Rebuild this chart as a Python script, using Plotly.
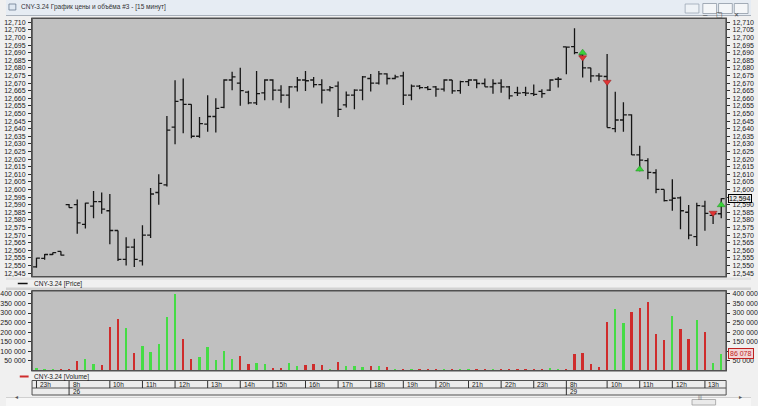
import plotly.graph_objects as go

# ---------------- data ----------------
bar_index = list(range(1, 86))

opens = [12.549, 12.5546, 12.5572, 12.5592, 12.590, 12.590, 12.577, 12.589, 12.592, 12.586,
         12.573, 12.554, 12.562, 12.553, 12.570, 12.598, 12.603, 12.641, 12.659, 12.656,
         12.635, 12.643, 12.648, 12.654, 12.672, 12.670, 12.664, 12.657, 12.6635, 12.672,
         12.6653, 12.662, 12.6675, 12.672, 12.672, 12.669, 12.6655, 12.668, 12.6556, 12.662,
         12.6653, 12.673, 12.670, 12.676, 12.673, 12.6747, 12.662, 12.668, 12.667, 12.6675,
         12.666, 12.672, 12.665, 12.671, 12.672, 12.6697, 12.6675, 12.670, 12.6675, 12.6637,
         12.6637, 12.663, 12.6645, 12.6653, 12.6725, 12.6938, 12.694, 12.6886, 12.680, 12.6747,
         12.6743, 12.640, 12.6457, 12.649, 12.6227, 12.619, 12.611, 12.600, 12.593, 12.5945,
         12.585, 12.569, 12.589, 12.583, 12.584]
highs = [12.555, 12.5576, 12.5585, 12.5594, 12.5905, 12.5934, 12.5913, 12.599, 12.598, 12.597,
         12.573, 12.5686, 12.5675, 12.5765, 12.601, 12.610, 12.6484, 12.6718, 12.673, 12.656,
         12.6477, 12.662, 12.660, 12.6725, 12.6775, 12.680, 12.665, 12.678, 12.6725, 12.6725,
         12.6685, 12.668, 12.674, 12.678, 12.674, 12.6725, 12.668, 12.671, 12.6644, 12.666,
         12.6747, 12.676, 12.678, 12.6765, 12.6755, 12.6775, 12.669, 12.6688, 12.668, 12.668,
         12.6725, 12.672, 12.6715, 12.6725, 12.6725, 12.673, 12.6725, 12.6725, 12.668, 12.6675,
         12.6675, 12.669, 12.666, 12.6725, 12.674, 12.694, 12.706, 12.689, 12.680, 12.6765,
         12.6891, 12.6643, 12.6574, 12.6495, 12.6288, 12.6205, 12.6133, 12.600, 12.6067, 12.5953,
         12.5898, 12.5913, 12.5926, 12.5847, 12.5942]
lows = [12.5485, 12.5537, 12.5568, 12.5565, 12.588, 12.5708, 12.5743, 12.581, 12.584, 12.564,
        12.553, 12.550, 12.549, 12.550, 12.568, 12.590, 12.602, 12.6297, 12.637, 12.6337,
        12.634, 12.638, 12.6374, 12.6534, 12.6653, 12.655, 12.656, 12.6556, 12.6587, 12.6587,
        12.657, 12.6534, 12.6644, 12.6648, 12.667, 12.6565, 12.6644, 12.6477, 12.6539, 12.6527,
        12.6587, 12.6644, 12.669, 12.669, 12.6725, 12.6556, 12.6587, 12.666, 12.6653, 12.661,
        12.6644, 12.663, 12.663, 12.668, 12.6666, 12.6675, 12.663, 12.6637, 12.6593, 12.6615,
        12.6615, 12.6615, 12.6604, 12.6648, 12.667, 12.6758, 12.689, 12.6736, 12.6706, 12.6715,
        12.6407, 12.6377, 12.638, 12.6227, 12.612, 12.6067, 12.5975, 12.592, 12.586, 12.5738,
        12.5672, 12.5628, 12.5729, 12.5773, 12.581]
closes = [12.5548, 12.5572, 12.5585, 12.5568, 12.588, 12.578, 12.591, 12.592, 12.587, 12.573,
          12.554, 12.562, 12.554, 12.570, 12.597, 12.604, 12.639, 12.658, 12.656, 12.635,
          12.6433, 12.648, 12.6534, 12.672, 12.674, 12.665, 12.657, 12.663, 12.672, 12.6653,
          12.662, 12.6675, 12.672, 12.6715, 12.669, 12.6653, 12.667, 12.6527, 12.662, 12.6653,
          12.674, 12.670, 12.676, 12.673, 12.674, 12.662, 12.668, 12.667, 12.6659, 12.666,
          12.672, 12.6648, 12.671, 12.672, 12.6697, 12.6675, 12.6697, 12.6675, 12.6615, 12.6634,
          12.6634, 12.6626, 12.663, 12.672, 12.6725, 12.6936, 12.690, 12.680, 12.6747, 12.6745,
          12.6407, 12.6457, 12.649, 12.6227, 12.6193, 12.6113, 12.600, 12.5927, 12.5942, 12.586,
          12.570, 12.5893, 12.5843, 12.584, 12.594]

volumes = [15000, 6000, 8000, 4000, 6000, 52000, 60000, 36000, 31000, 228000,
           272000, 225000, 94000, 130000, 99000, 139000, 279000, 400000, 165000, 60000,
           73000, 123000, 55000, 101000, 59000, 75000, 32000, 38000, 32000, 15000,
           15000, 39000, 24000, 31000, 32000, 29000, 10000, 43000, 22000, 24000,
           19000, 22000, 25000, 17000, 6000, 10000, 10000, 6000, 6000, 8000,
           4000, 6000, 4000, 4000, 6000, 6000, 4000, 6000, 8000, 8000,
           6000, 6000, 6000, 13000, 6000, 6000, 88000, 90000, 32000, 17000,
           253000, 321000, 249000, 309000, 326000, 359000, 190000, 158000, 284000, 217000,
           167000, 264000, 200000, 38000, 86078]
vol_dir = list("gggrrrggrr" "rgrgggggrr" "gggggrrggr" "rggrrrgrgg" "grgrgrgrrr"
               "grggrrgrrr" "rrrggrrrrr" "rggrrrrrgr" "rgrgg")

buy_x = [68, 75, 85]
buy_y = [12.6900, 12.6133, 12.5898]
sell_x = [68, 71, 84]
sell_y = [12.6868, 12.6707, 12.5845]

price_ticks = [round(12.545 + 0.005 * k, 3) for k in range(34)]
vol_ticks = [50000 * k for k in range(1, 9)]

hour_ticks = [1, 5, 10, 14, 18, 22, 26, 30, 34, 38, 42, 46, 50, 54, 58, 62, 66, 71, 75, 79, 83]
hour_labels = ["23h", "8h", "10h", "11h", "12h", "13h", "14h", "15h", "16h", "17h", "18h",
               "19h", "20h", "21h", "22h", "23h", "8h", "10h", "11h", "12h", "13h"]
date_ticks = [5, 66]
date_labels = ["26", "29"]

last_price = 12.594
last_volume = 86078
title_text = "CNY-3.24 График цены и объёма #3 - [15 минут]"
price_name = "CNY-3.24 [Price]"
volume_name = "CNY-3.24 [Volume]"

# ---------------- geometry helpers ----------------
W, H = 758, 406
def X(p): return p / W
def Y(p): return 1 - p / H

PL, PR = 26.5, 732.7
P_TOP, P_BOT = 18.3, 276.7
V_TOP, V_BOT = 290.7, 370.7
T_TOP, T_MID, T_BOT = 381, 388, 395
x_range = [0.457, 85.6]
price_range = [12.5426, 12.7126]
vol_range = [-2600, 417000]

FONT = "Liberation Sans"
axfont = dict(family=FONT, size=7, color="#202020")
GREEN, RED = "#45dc45", "#cf2c2c"

def fmt_price(v): return f"{v:.3f}".replace(".", ",")
def fmt_vol(v): return f"{v:,d}".replace(",", " ")

# right-hand labels hidden behind the "current value" boxes
cov_p = min(price_ticks, key=lambda v: abs(v - last_price))
cov_v = min(vol_ticks, key=lambda v: abs(v - last_volume))
right_price_text = ["" if v == cov_p else fmt_price(v) for v in price_ticks]
right_vol_text = ["" if v == cov_v else fmt_vol(v) for v in vol_ticks]

fig = go.Figure()
fig.add_trace(go.Ohlc(
    x=bar_index, open=opens, high=highs, low=lows, close=closes,
    increasing=dict(line=dict(color="#151515", width=1.3)),
    decreasing=dict(line=dict(color="#151515", width=1.3)),
    tickwidth=0.42, hoverinfo="skip", showlegend=False, xaxis="x", yaxis="y"))
fig.add_trace(go.Scatter(
    x=buy_x, y=buy_y, mode="markers", xaxis="x", yaxis="y", showlegend=False,
    marker=dict(symbol="triangle-up", size=7, color="#39d339",
                line=dict(color="#1e8c1e", width=0.5)), hoverinfo="skip"))
fig.add_trace(go.Scatter(
    x=sell_x, y=sell_y, mode="markers", xaxis="x", yaxis="y", showlegend=False,
    marker=dict(symbol="triangle-down", size=7, color="#e03333",
                line=dict(color="#901c1c", width=0.5)), hoverinfo="skip"))
fig.add_trace(go.Scatter(x=[None], y=[None], xaxis="x", yaxis="y2", showlegend=False,
                         hoverinfo="skip"))
fig.add_trace(go.Bar(
    x=bar_index, y=volumes, width=0.28, xaxis="x2", yaxis="y3", showlegend=False,
    marker=dict(color=[GREEN if d == "g" else RED for d in vol_dir], line=dict(width=0)),
    hoverinfo="skip"))
fig.add_trace(go.Scatter(x=[None], y=[None], xaxis="x2", yaxis="y4", showlegend=False,
                         hoverinfo="skip"))

common_y = dict(showgrid=False, zeroline=False, showline=True, linecolor="#404040",
                linewidth=1, ticks="outside", ticklen=3, tickcolor="#303030",
                tickfont=axfont, ticklabelstandoff=1)
common_x = dict(showgrid=False, zeroline=False, showticklabels=False, ticks="",
                domain=[X(PL), X(PR)], range=x_range, showline=False)

fig.update_layout(
    width=W, height=H, margin=dict(l=0, r=0, t=0, b=0),
    paper_bgcolor="#f0f0f0", plot_bgcolor="#c0c0c0",
    separators=", ", bargap=0, showlegend=False,
    xaxis=dict(**common_x, anchor="y", rangeslider=dict(visible=False)),
    yaxis=dict(**common_y, domain=[Y(P_BOT), Y(P_TOP)], range=price_range,
               tickvals=price_ticks, tickformat=".3f", side="left", anchor="x"),
    yaxis2=dict(**common_y, overlaying="y", range=price_range, tickvals=price_ticks,
                ticktext=right_price_text, side="right", anchor="x"),
    xaxis2=dict(**common_x, anchor="y3"),
    yaxis3=dict(**common_y, domain=[Y(V_BOT), Y(V_TOP)], range=vol_range,
                tickvals=vol_ticks, tickformat=",d", side="left", anchor="x2"),
    yaxis4=dict(**common_y, overlaying="y3", range=vol_range, tickvals=vol_ticks,
                ticktext=right_vol_text, side="right", anchor="x2"),
)

shapes = []
def rect(x0, y0, x1, y1, fill=None, line=None, lw=1, layer="below"):
    shapes.append(dict(type="rect", xref="paper", yref="paper", x0=X(x0), x1=X(x1),
                       y0=Y(y1), y1=Y(y0), fillcolor=fill or "rgba(0,0,0,0)",
                       line=dict(color=line or "rgba(0,0,0,0)", width=lw if line else 0),
                       layer=layer))
def hline(x0, x1, y, color, lw=1, layer="above"):
    shapes.append(dict(type="line", xref="paper", yref="paper", x0=X(x0), x1=X(x1),
                       y0=Y(y), y1=Y(y), line=dict(color=color, width=lw), layer=layer))

# title bar
rect(0, 0, W, 15, fill="#e6ecf3")
hline(0, W, 15.5, "#a8b0ba")
rect(3, 4, 10, 10, fill="#dfe8f2", line="#6a7b90", lw=0.8, layer="above")
# window buttons
rect(691, 4, 705, 13, fill="#eef2f6", line="#9aa6b4", lw=0.8, layer="above")
for bx in (709, 725, 741):
    rect(bx, 3.5, bx + 14, 13.5, fill="#f4f6f8", line="#8e99a6", lw=0.8, layer="above")
# panel frames
rect(PL, P_TOP, PR, P_BOT, line="#505050", lw=1.5, layer="above")
rect(PL, V_TOP, PR, V_BOT, line="#505050", lw=1.5, layer="above")
rect(0, 277.5, W, 280, fill="#e2e2e2")
rect(0, 287.5, W, 290, fill="#d2d2d2")
# time axis box
rect(PL, T_TOP - 0.5, PR, T_BOT, fill="#ececec", line="#505050", lw=1)
hline(PL, PR, T_MID, "#505050")
# scrollbar
rect(0, 398, W, H, fill="#f7f7f7")
hline(0, W, 397.5, "#d0d0d0", layer="below")
rect(698, 399.5, 722, 405, fill="#eaeaea", line="#a0a0a0", lw=0.8, layer="above")
# legend line icons
hline(12, 22, 283.5, "#111111", lw=1.5)
hline(14, 23, 376.5, RED, lw=2)

annotations = [
    dict(text=title_text, x=X(13), y=Y(7.5), xref="paper", yref="paper", xanchor="left",
         yanchor="middle", showarrow=False, font=dict(family=FONT, size=6.5, color="#333333")),
    dict(text=price_name, x=X(26), y=Y(283.5), xref="paper", yref="paper", xanchor="left",
         yanchor="middle", showarrow=False, font=dict(family=FONT, size=6.5, color="#202020")),
    dict(text=volume_name, x=X(26), y=Y(376.5), xref="paper", yref="paper", xanchor="left",
         yanchor="middle", showarrow=False, font=dict(family=FONT, size=6.5, color="#202020")),
    dict(text=fmt_price(last_price), x=X(PR + 2), y=last_price, xref="paper",
         yref="y", xanchor="left", yanchor="middle", showarrow=False,
         font=dict(family=FONT, size=7, color="#000000"), bgcolor="#e8e8e8",
         bordercolor="#000000", borderwidth=1, borderpad=0),
    dict(text=fmt_vol(last_volume), x=X(PR + 2), y=last_volume, xref="paper",
         yref="y3", xanchor="left", yanchor="middle", showarrow=False,
         font=dict(family=FONT, size=7, color="#c02020"), bgcolor="#f2d6d6",
         bordercolor="#c02020", borderwidth=1, borderpad=1),
    dict(text="–", x=X(716), y=Y(8), xref="paper", yref="paper", showarrow=False,
         font=dict(family=FONT, size=8, color="#444")),
    dict(text="□", x=X(732), y=Y(8.5), xref="paper", yref="paper", showarrow=False,
         font=dict(family="DejaVu Sans", size=7, color="#444")),
    dict(text="✕", x=X(748), y=Y(8.5), xref="paper", yref="paper", showarrow=False,
         font=dict(family="DejaVu Sans", size=6, color="#444")),
    dict(text="◂", x=X(7), y=Y(402), xref="paper", yref="paper", showarrow=False,
         font=dict(family="DejaVu Sans", size=6, color="#555")),
    dict(text="▸", x=X(751), y=Y(402), xref="paper", yref="paper", showarrow=False,
         font=dict(family="DejaVu Sans", size=6, color="#555")),
    dict(text="|||", x=X(710), y=Y(402.3), xref="paper", yref="paper", showarrow=False,
         font=dict(family=FONT, size=5, color="#666")),
]

# time axis (hours / dates) placed on the volume x scale
tfont = dict(family=FONT, size=6.5, color="#202020")
for t, lab in zip(hour_ticks, hour_labels):
    shapes.append(dict(type="line", xref="x2", yref="paper", x0=t, x1=t,
                       y0=Y(T_MID), y1=Y(T_TOP), line=dict(color="#303030", width=1),
                       layer="above"))
    annotations.append(dict(text=lab, x=t, y=Y((T_TOP + T_MID) / 2), xref="x2",
                            yref="paper", xanchor="left", yanchor="middle", xshift=1.5,
                            showarrow=False, font=tfont))
for t, lab in zip(date_ticks, date_labels):
    shapes.append(dict(type="line", xref="x2", yref="paper", x0=t, x1=t,
                       y0=Y(T_BOT), y1=Y(T_MID), line=dict(color="#303030", width=1),
                       layer="above"))
    annotations.append(dict(text=lab, x=t, y=Y((T_MID + T_BOT) / 2), xref="x2",
                            yref="paper", xanchor="left", yanchor="middle", xshift=1.5,
                            showarrow=False, font=tfont))

fig.update_layout(shapes=shapes, annotations=annotations)

fig.write_html("out.html", config={"displayModeBar": False},
               post_script="document.body.style.margin='0px';"
                           "document.body.style.overflow='hidden';")
